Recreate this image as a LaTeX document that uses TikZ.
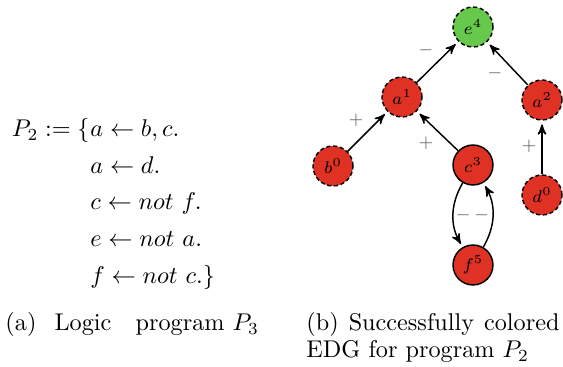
\documentclass[tikz,border=0pt]{standalone}
\usepackage{amsmath,amssymb}
\usetikzlibrary{arrows}
\definecolor{atomred}{RGB}{224,50,36}
\definecolor{atomgreen}{RGB}{102,201,76}

\begin{document}
\begin{tikzpicture}[x=0.413pt,y=-0.413pt,
		atom/.style={circle,draw,semithick,fill=atomred,minimum size=16.5pt,inner sep=0pt,font=\scriptsize},
		unsure/.style={dash pattern=on 1.7pt off 1.1pt},
		edge/.style={semithick,->,>=stealth',shorten >=1.5pt},
		sign/.style={font=\scriptsize,text=black!60},
		txt/.style={inner sep=0pt}]
				\useasboundingbox (0,0) rectangle (563,367);
				% the program
				\node[txt,anchor=base east] (head) at (90,136.7){$P_2 := \{$};
				\node[txt,anchor=base west] (r1) at (90,136.7){$a \leftarrow b, c.$};
				\node[txt,anchor=base west] (r2) at (90,173.3){$a \leftarrow d.$};
				\node[txt,anchor=base west] (r3) at (90,210){$c \leftarrow not~f.$};
				\node[txt,anchor=base west] (r4) at (90,246.7){$e \leftarrow not~a.$};
				\node[txt,anchor=base west] (r5) at (90,283.3){$f \leftarrow not~c.\}$};
				% the graph
				\node[atom,fill=atomgreen,unsure] (e) at (473,27){$e^4$};
				\node[atom,unsure] (a1) at (402,97){$a^1$};
				\node[atom,unsure] (a2) at (542,100){$a^2$};
				\node[atom,unsure] (b) at (333,166){$b^0$};
				\node[atom] (c) at (473,165){$c^3$};
				\node[atom,unsure] (d) at (542,195){$d^0$};
				\node[atom] (f) at (473,265){$f^5$};
				\draw[edge] (a1) -- (e);
				\draw[edge] (a2) -- (e);
				\draw[edge] (b) -- (a1);
				\draw[edge] (c) -- (a1);
				\draw[edge] (d) -- (a2);
				\draw[edge] (c) to[bend right=30] (f);
				\draw[edge] (f) to[bend right=30] (c);
				\node[sign] (s1) at (426,50){$-$};
				\node[sign] (s2) at (495,73){$-$};
				\node[sign] (s3) at (356,120){$+$};
				\node[sign] (s4) at (426,143){$+$};
				\node[sign] (s5) at (529,146){$+$};
				\node[sign] (s6) at (472.5,215){$-\,-$};
				% captions
				\node[txt,anchor=base west] (capa) at (5,331){(a)\hspace{7.5pt}Logic\hspace{10pt}program $P_3$};
				\node[txt,anchor=base west] (capb) at (306,331){\makebox[104.5pt][s]{(b) Successfully colored}};
				\node[txt,anchor=base west] (capc) at (306,357.7){EDG for program $P_2$};
			\end{tikzpicture}
\end{document}
